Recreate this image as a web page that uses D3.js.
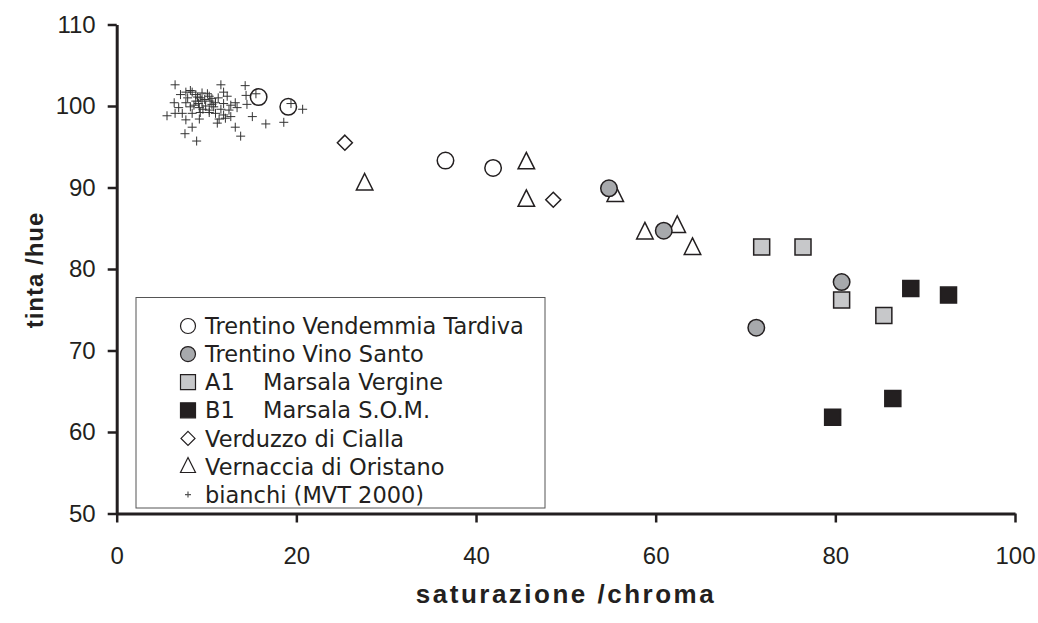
<!DOCTYPE html>
<html>
<head>
<meta charset="utf-8">
<script src="https://cdn.jsdelivr.net/npm/d3@7"></script>
<style>
  body { margin: 0; background: #fff; }
  .tick text { font-family: "Liberation Sans", Arial, sans-serif; }
</style>
</head>
<body>
<script>
// values: [saturazione/chroma, tinta/hue]
var vendemmiaTardiva = [[15.8, 101.1], [19.1, 99.9], [36.6, 93.3], [41.9, 92.4]];
var vinoSanto = [[54.8, 89.9], [60.9, 84.7], [80.7, 78.4], [71.2, 72.8]];
var marsalaVergine = [[71.8, 82.7], [76.4, 82.7], [80.7, 76.2], [85.4, 74.3]];
var marsalaSOM = [[88.4, 77.6], [92.6, 76.8], [86.4, 64.1], [79.7, 61.8]];
var verduzzo = [[25.4, 95.5], [48.6, 88.5]];
var vernaccia = [[27.6, 90.5], [45.6, 93.1], [45.6, 88.5], [55.5, 89.1], [58.8, 84.5], [62.4, 85.3], [64.1, 82.6]];
var bianchi = [
  [6.5, 102.6], [11.6, 102.6], [14.3, 102.5], [8.2, 101.9], [7.7, 101.7], [7.1, 101.4],
  [8.4, 101.7], [9.5, 101.6], [11.9, 101.7], [12.3, 101.2], [10.3, 101.2], [9.0, 101.1],
  [14.4, 101.3], [6.4, 100.4], [7.7, 100.4], [8.8, 100.6], [9.5, 100.6], [10.4, 100.6],
  [11.0, 100.4], [11.9, 100.3], [13.2, 100.4], [14.5, 100.2], [15.5, 101.5], [19.4, 100.3],
  [20.7, 99.6], [6.9, 99.8], [8.2, 99.9], [9.2, 99.8], [9.9, 100.0], [10.8, 99.9],
  [11.6, 99.6], [12.5, 99.5], [13.4, 99.8], [5.6, 98.8], [6.5, 99.1], [7.3, 99.1],
  [8.4, 99.1], [9.3, 99.2], [10.3, 99.2], [11.0, 99.1], [11.9, 98.9], [12.7, 98.7],
  [15.1, 98.7], [7.7, 98.3], [9.2, 98.4], [11.4, 98.4], [12.1, 98.5], [11.2, 97.9],
  [8.4, 97.4], [13.2, 97.4], [16.6, 97.8], [18.6, 98.0], [7.6, 96.6], [13.8, 96.3],
  [8.9, 95.7], [8.6, 100.1], [9.1, 100.3], [9.8, 100.8], [10.6, 100.9], [9.3, 101.0],
  [8.8, 101.4], [10.1, 101.5], [11.3, 101.0], [10.6, 100.2], [9.6, 99.6], [10.3, 99.5],
  [7.9, 101.0], [12.7, 100.1]
];

var xTicks = [0, 20, 40, 60, 80, 100];
var yTicks = [50, 60, 70, 80, 90, 100, 110];

var legendCodes = ["", "", "A1", "B1", "", "", ""];
var legendNames = ["Trentino Vendemmia Tardiva", "Trentino Vino Santo", "Marsala Vergine",
                   "Marsala S.O.M.", "Verduzzo di Cialla", "Vernaccia di Oristano", "bianchi (MVT 2000)"];

var ink = "#231f20";

// one entry per series: data, shape, fill
var series = [
  {data: bianchi, shape: "plus", fill: "none"},
  {data: vendemmiaTardiva, shape: "circle", fill: "none"},
  {data: verduzzo, shape: "diamond", fill: "#fff"},
  {data: vernaccia, shape: "triangle", fill: "#fff"},
  {data: vinoSanto, shape: "circle", fill: "#a7a9ac"},
  {data: marsalaVergine, shape: "square", fill: "#c7c8ca"},
  {data: marsalaSOM, shape: "square", fill: ink}
];
// legend order differs from drawing order
var legendShapes = [series[1], series[4], series[5], series[6], series[2], series[3], series[0]];

// makes a path string for a marker centred on 0,0
function shapePath(shape, s) {
  if (shape == "circle") return d3.symbol(d3.symbolCircle, Math.PI * s * s / 4)();
  if (shape == "square") return "M" + (-s/2) + "," + (-s/2) + "h" + s + "v" + s + "h" + (-s) + "Z";
  if (shape == "diamond") return "M0," + (-s/2) + "L" + (s/2) + ",0L0," + (s/2) + "L" + (-s/2) + ",0Z";
  if (shape == "triangle") return "M0," + (-s*0.6) + "L" + (s/2) + "," + (s*0.4) + "L" + (-s/2) + "," + (s*0.4) + "Z";
  return "M" + (-s/2) + ",0H" + (s/2) + "M0," + (-s/2) + "V" + (s/2);
}

var markerSize = {circle: 16.5, square: 16, diamond: 15, triangle: 16.5, plus: 9};
var legendSize = {circle: 15, square: 15, diamond: 14, triangle: 15, plus: 6};

var width = 1038, height = 623;

var svg = d3.select("body")
            .append("svg")
            .attr("width", width)
            .attr("height", height);

var xScale = d3.scaleLinear().domain([0, 100]).range([116.7, 1015]);
var yScale = d3.scaleLinear().domain([50, 110]).range([513.5, 24.5]);

// legend box sits under the markers
var legend = svg.append("g");
legend.append("rect")
  .attr("x", 136).attr("y", 297.5)
  .attr("width", 409).attr("height", 210.5)
  .attr("fill", "#fff")
  .attr("stroke", "#555")
  .attr("stroke-width", 1);

var entries = legend.selectAll("g.entry")
  .data(legendNames)
  .enter()
  .append("g")
  .attr("class", "entry")
  .attr("transform", function(d, i) { return "translate(188," + (326 + i * 28.1) + ")"; });

entries.append("path")
  .attr("d", function(d, i) { return shapePath(legendShapes[i].shape, legendSize[legendShapes[i].shape]); })
  .attr("fill", function(d, i) { return legendShapes[i].fill == "none" ? "#fff" : legendShapes[i].fill; })
  .attr("stroke", function(d, i) { return legendShapes[i].shape == "plus" ? "#555" : ink; })
  .attr("stroke-width", 1.2);

entries.append("text")
  .attr("x", 17)
  .attr("dy", "0.36em")
  .style("font-family", "'DejaVu Sans', Verdana, sans-serif")
  .style("font-size", "22.5px")
  .attr("fill", ink)
  .text(function(d, i) { return legendCodes[i]; });

entries.append("text")
  .attr("x", function(d, i) { return legendCodes[i] ? 75 : 17; })
  .attr("dy", "0.36em")
  .style("font-family", "'DejaVu Sans', Verdana, sans-serif")
  .style("font-size", "22.5px")
  .attr("fill", ink)
  .text(function(d) { return d; });

// Draws the markers, series by series
series.forEach(function(s) {
  svg.append("g")
    .selectAll("path")
    .data(s.data)
    .enter()
    .append("path")
      .attr("transform", function(d) { return "translate(" + xScale(d[0]) + "," + yScale(d[1]) + ")"; })
      .attr("d", shapePath(s.shape, markerSize[s.shape]))
      .attr("fill", s.fill)
      .attr("stroke", s.shape == "plus" ? "#333" : ink)
      .attr("stroke-width", s.shape == "plus" ? 1 : 1.5);
});

// axes
var xAxis = d3.axisBottom(xScale).tickValues(xTicks).tickSize(9).tickSizeOuter(0).tickPadding(24);
var yAxis = d3.axisLeft(yScale).tickValues(yTicks).tickSize(9).tickSizeOuter(0).tickPadding(12);

var gx = svg.append("g")
   .attr("transform", "translate(0," + yScale(50) + ")")
   .call(xAxis);
var gy = svg.append("g")
   .attr("transform", "translate(" + xScale(0) + ",0)")
   .call(yAxis);

[gx, gy].forEach(function(g) {
  g.select(".domain").attr("stroke", ink).attr("stroke-width", 3);
  g.selectAll(".tick line").attr("stroke", ink).attr("stroke-width", 2.5);
  g.selectAll(".tick text").attr("fill", ink).style("font-size", "24px");
});

// axis titles
svg.append("text")
  .attr("x", 566).attr("y", 603)
  .attr("text-anchor", "middle")
  .style("font-family", "'Liberation Sans', Arial, sans-serif")
  .style("font-weight", "bold")
  .style("font-size", "26px")
  .style("letter-spacing", "2.5px")
  .attr("fill", ink)
  .text("saturazione /chroma");

svg.append("text")
  .attr("transform", "translate(43,270) rotate(-90)")
  .attr("text-anchor", "middle")
  .style("font-family", "'Liberation Sans', Arial, sans-serif")
  .style("font-weight", "bold")
  .style("font-size", "24px")
  .style("letter-spacing", "1px")
  .attr("fill", ink)
  .text("tinta /hue");
</script>
</body>
</html>
